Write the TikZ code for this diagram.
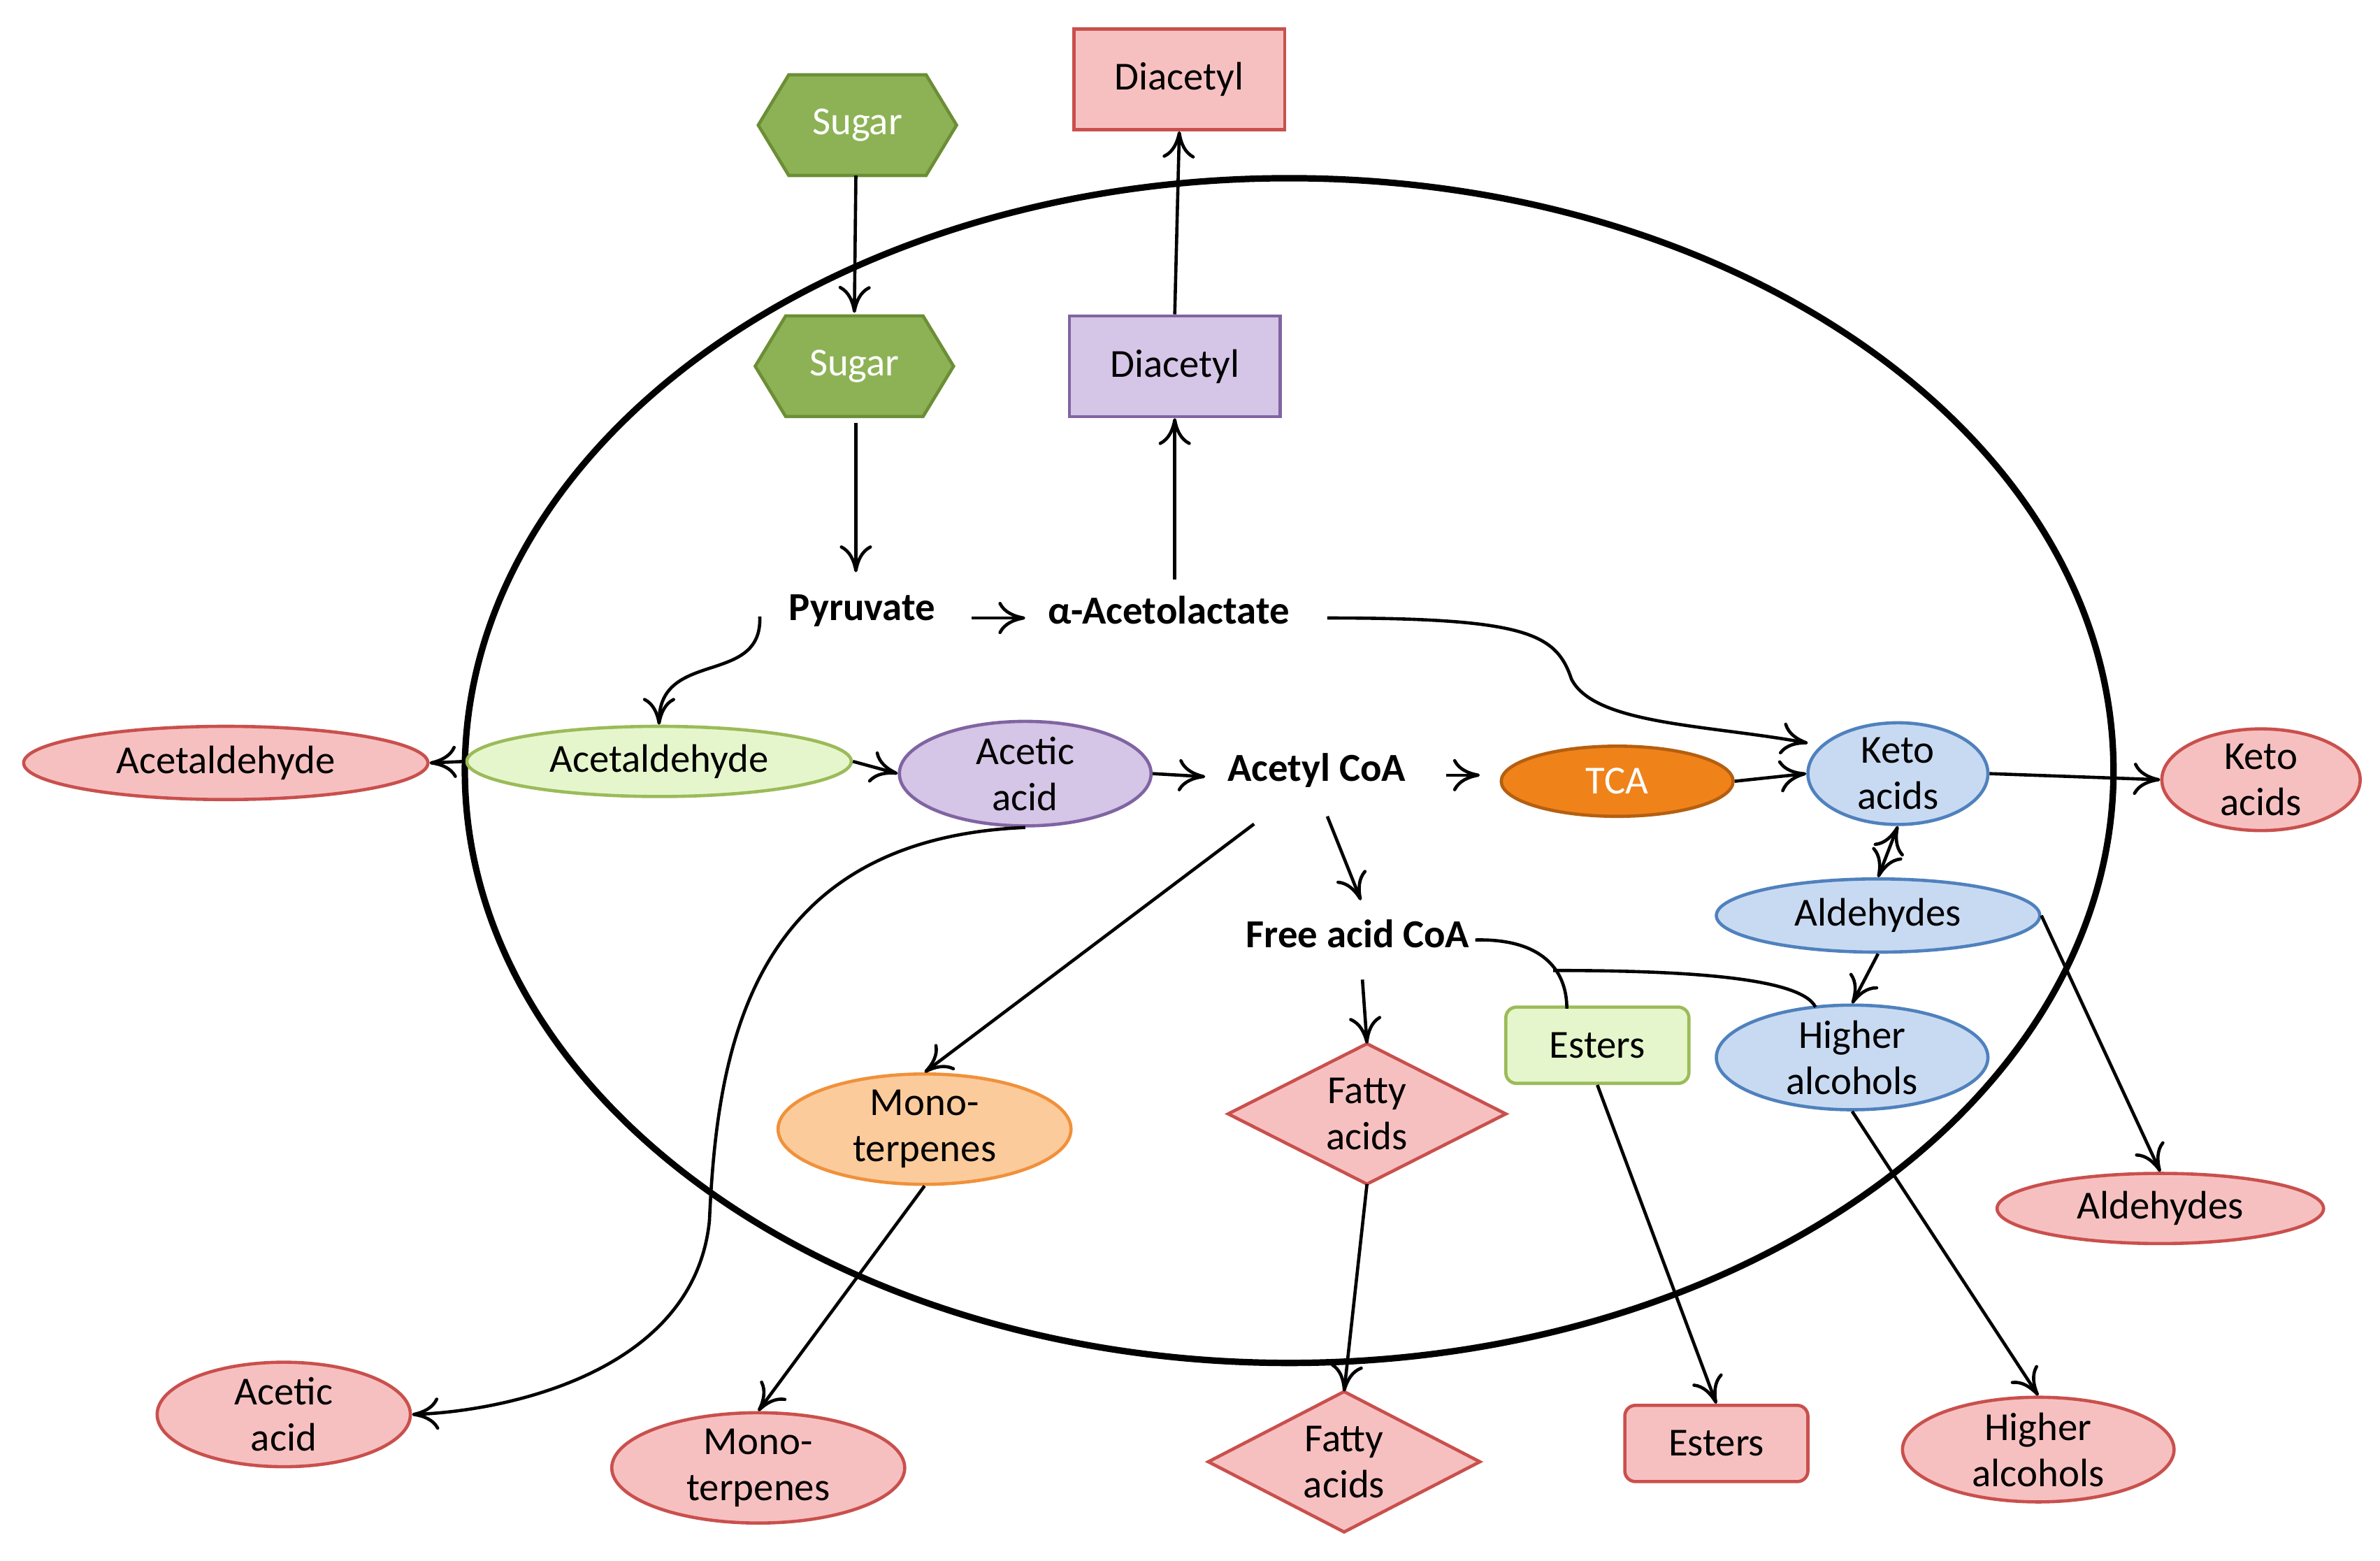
\documentclass[tikz,border=0pt]{standalone}
\usepackage{fontspec}
\setmainfont{Carlito}
\usetikzlibrary{shapes.geometric,arrows.meta}
\definecolor{pinkF}{HTML}{F7C0C0}\definecolor{pinkD}{HTML}{C9504D}
\definecolor{grnF}{HTML}{8DB255}\definecolor{grnD}{HTML}{6C8E36}
\definecolor{purF}{HTML}{D5C5E6}\definecolor{purD}{HTML}{8064A2}
\definecolor{lgF}{HTML}{E6F6CC}\definecolor{lgD}{HTML}{9BBB59}
\definecolor{bluF}{HTML}{C8DAF2}\definecolor{bluD}{HTML}{4F81BD}
\definecolor{orF}{HTML}{F0821A}\definecolor{orD}{HTML}{B55F10}
\definecolor{loF}{HTML}{FBCB9C}\definecolor{loD}{HTML}{F0913A}
\begin{document}
\begin{tikzpicture}[x=0.01cm,y=-0.01cm,
  every node/.style={font=\fontsize{7.4}{8.6}\selectfont, align=center, inner sep=0pt},
  base/.style={draw, line width=0.6pt},
  pink/.style={base, fill=pinkF, draw=pinkD},
  sz/.style 2 args={minimum width=#1*0.01cm, minimum height=#2*0.01cm},
  el/.style 2 args={ellipse, sz={#1}{#2}},
  rect/.style={rectangle, sz={138}{66}},
  lbl/.style={font=\fontsize{7.4}{8.6}\selectfont\bfseries},
  arr/.style={-{To[length=5pt,width=6pt]}, line width=0.6pt},
  ln/.style={line width=0.6pt}]
\useasboundingbox (0,0) rectangle (1560,1023);
\draw[line width=1.2pt] (845,505) ellipse [x radius=5.40cm, y radius=3.88cm];
\draw[base,fill=grnF,draw=grnD] (497,82)--(517,49)--(607,49)--(627,82)--(607,115)--(517,115)--cycle;
\node[text=white] (sug1) at (562,82) {Sugar};
\draw[base,fill=grnF,draw=grnD] (495,240)--(515,207)--(605,207)--(625,240)--(605,273)--(515,273)--cycle;
\node[text=white] (sug2) at (560,240) {Sugar};
\node[pink,rect] (dia1) at (773,52) {Diacetyl};
\node[base,rect,fill=purF,draw=purD] (dia2) at (770,240) {Diacetyl};
\node[lbl] (pyr) at (565,400) {Pyruvate};
\node[lbl] (acl) at (766,400) {α-Acetolactate};
\node[pink,el={265}{48}] (ald1) at (148,500) {Acetaldehyde};
\node[base,el={252}{46},fill=lgF,draw=lgD] (ald2) at (432,499) {Acetaldehyde};
\node[base,el={165}{64},fill=purF,draw=purD] (aca2) at (672,507) {Acetic\\acid};
\node[lbl] (acoa) at (863,505) {Acetyl CoA};
\node[base,el={152}{46},fill=orF,draw=orD,text=white] (tca) at (1060,512) {TCA};
\node[base,el={118}{66},fill=bluF,draw=bluD] (ket2) at (1244,507) {Keto\\acids};
\node[pink,el={130}{66}] (ket1) at (1482,511) {Keto\\acids};
\node[base,el={212}{48},fill=bluF,draw=bluD] (aldh2) at (1231,600) {Aldehydes};
\node[base,el={178}{62},fill=bluF,draw=bluD] (ha2) at (1214,693) {Higher\\alcohols};
\node[base,rectangle,rounded corners=2pt,sz={120}{50},fill=lgF,draw=lgD] (est2) at (1047,685) {Esters};
\node[lbl] (fac) at (890,612) {Free acid CoA};
\draw[pink] (805,730)--(896,684)--(987,730)--(896,776)--cycle;
\node (fa2) at (896,730) {Fatty\\acids};
\node[base,el={192}{64},fill=loF,draw=loD] (mt2) at (606,740) {Mono-\\terpenes};
\node[pink,el={214}{46}] (aldh1) at (1416,792) {Aldehydes};
\node[pink,el={178}{64}] (ha1) at (1336,950) {Higher\\alcohols};
\node[pink,rectangle,rounded corners=2pt,sz={120}{50}] (est1) at (1125,946) {Esters};
\draw[pink] (792,958)--(881,912)--(970,958)--(881,1004)--cycle;
\node (fa1) at (881,958) {Fatty\\acids};
\node[pink,el={192}{64}] (mt1) at (497,962) {Mono-\\terpenes};
\node[pink,el={166}{64}] (aca1) at (186,927) {Acetic\\acid};
% connectors
\coordinate (c1) at (561,115); \coordinate (c2) at (560,205);
\draw[arr] (c1)--(c2);
\coordinate (c3) at (561,277); \coordinate (c4) at (561,375);
\draw[arr] (c3)--(c4);
\coordinate (c5) at (637,405); \coordinate (c6) at (672,405);
\draw[arr] (c5)--(c6);
\coordinate (c7) at (770,380);
\draw[arr] (c7)--(dia2.south);
\draw[arr] (dia2.north)--(dia1.south);
\coordinate (c8) at (498,404);
\draw[arr] (c8) .. controls (500,450) and (432,425) .. (ald2.north);
\draw[arr] (ald2.west)--(ald1.east);
\draw[arr] (ald2.east)--(aca2.west);
\coordinate (c9) at (790,509);
\draw[arr] (aca2.east)--(c9);
\coordinate (c10) at (948,508); \coordinate (c11) at (970,508);
\draw[arr] (c10)--(c11);
\draw[arr] (tca.east)--(ket2.west);
\coordinate (c12) at (870,405); \coordinate (c13) at (1185,487);
\draw[arr] (c12) .. controls (1000,405) and (1020,415) .. (1030,445) .. controls (1045,475) and (1120,475) .. (c13);
\draw[arr] (ket2.east)--(ket1.west);
\draw[{To[length=5pt,width=6pt]}-{To[length=5pt,width=6pt]}, line width=0.6pt] (ket2.south)--(aldh2.north);
\draw[arr] (aldh2.south)--(ha2.north);
\draw[arr] (aldh2.east)--(aldh1.north);
\coordinate (c14) at (822,540); \coordinate (c15) at (870,535); \coordinate (c16) at (892,590);
\draw[arr] (c14)--(mt2.north);
\draw[arr] (c15)--(c16);
\coordinate (c17) at (893,642); \coordinate (c17b) at (896,684);
\draw[arr] (c17)--(c17b);
\coordinate (c18) at (967,616); \coordinate (c19) at (1027,661);
\draw[ln] (c18) .. controls (1010,615) and (1027,635) .. (c19);
\coordinate (c20) at (1190,660); \coordinate (c21) at (1018,636);
\draw[ln] (c20) .. controls (1180,640) and (1100,636) .. (c21);
\draw[arr] (aca2.south) .. controls (490,550) and (470,690) .. (465,800) .. controls (455,900) and (330,925) .. (aca1.east);
\draw[arr] (mt2.south)--(mt1.north);
\coordinate (c22) at (896,776); \coordinate (c23) at (881,912);
\draw[arr] (c22)--(c23);
\draw[arr] (est2.south)--(est1.north);
\draw[arr] (ha2.south)--(ha1.north);
\end{tikzpicture}
\end{document}
